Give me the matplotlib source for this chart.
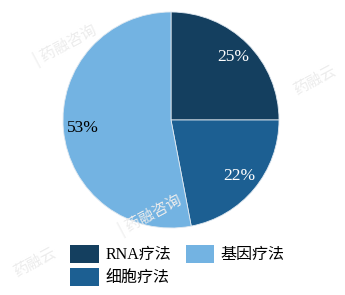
import matplotlib.pyplot as plt
from matplotlib.patches import Patch

plt.rcParams['font.family'] = ['Liberation Serif', 'Noto Sans CJK SC']

labels = ['RNA疗法', '细胞疗法', '基因疗法']
values = [25, 22, 53]
colors = ['#143f5f', '#1c5f92', '#73b3e2']
text_colors = ['white', 'white', 'black']

W, H = 345, 295
fig = plt.figure(figsize=(W / 100, H / 100), dpi=100)

# faint watermarks
for (x, y, s) in [(65, 45, '| 药融咨询'), (315, 80, '药融云'),
                  (150, 215, '| 药融咨询'), (35, 262, '药融云')]:
    fig.text(x / W, 1 - y / H, s, rotation=28, color='#ececec', fontsize=11,
             ha='center', va='center', family=['Noto Sans CJK SC'])

cx, cy, r = 171, 120, 108
ax = fig.add_axes([(cx - r) / W, 1 - (cy + r) / H, 2 * r / W, 2 * r / H])
wedges, texts, autotexts = ax.pie(values, colors=colors, startangle=90, counterclock=False,
                                  autopct='%.0f%%', pctdistance=0.82,
                                  wedgeprops=dict(edgecolor='#dfe8f0', linewidth=0.6))
for t, c in zip(autotexts, text_colors):
    t.set_color(c)
    t.set_fontsize(12.5)
ax.set_aspect('equal')
ax.set_xlim(-1, 1)
ax.set_ylim(-1, 1)

handles = [Patch(facecolor=c) for c in colors]
fig.legend(handles, labels, ncol=2, loc='upper left',
           bbox_to_anchor=(56 / W, 1 - 231 / H), frameon=False, fontsize=11.5,
           handlelength=1.8, handleheight=1.3, handletextpad=0.4, columnspacing=0.9,
           labelspacing=0.3)

fig.savefig('out.png', dpi=100)
